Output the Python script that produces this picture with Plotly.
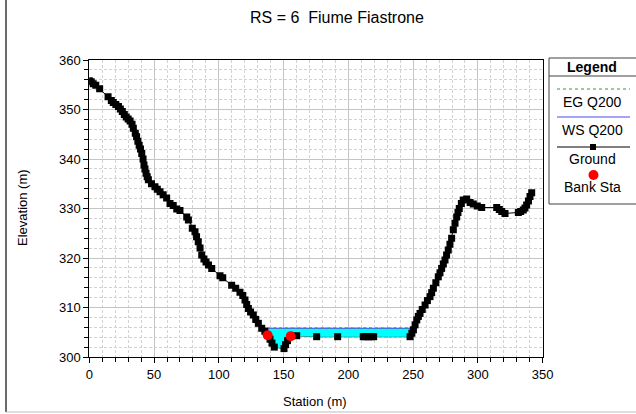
import numpy as np
import plotly.graph_objects as go

# ---------------- data ----------------
ground_sta = [0, 1.5, 3, 5, 8, 14.5, 17, 18.5, 20.5, 22.5, 24, 25.5, 27, 28.5, 30, 31.5, 33, 34,
              35.5, 36.5, 37.5, 38.5, 39.5, 40.5, 41.5, 42.2, 43, 43.8, 44.7, 45.6, 48, 50.7, 52.5,
              54.6, 57, 59.7, 62.3, 64.8, 67.5, 70, 75.2, 76.5, 79.5, 81.6, 82.8, 84.1, 85.5, 86.8,
              88.5, 90.1, 92, 94.5, 100.9, 103, 109.9, 113, 116.3, 118.5, 120.2, 121.5, 122.8, 124.5,
              126.6, 128.5, 130.5, 133.1, 135.5, 137.7, 139.5, 141, 142.8, 150.3, 151.5, 153, 155.5,
              160.1, 175.5, 191.7, 211.5, 213.5, 215.5, 217.5, 219.5, 247.6, 249, 250.2, 251.5, 252.8,
              254, 255.3, 257, 259.2, 261, 263, 264.3, 265.6, 267.5, 269.4, 270.7, 272, 273.3, 274.6,
              275.8, 277.1, 278.4, 279.7, 281, 282.3, 283.6, 284.6, 285.6, 287.2, 288.7, 291.3, 294,
              296.4, 299.5, 302.9, 314.5, 316.5, 318.4, 320.9, 331.2, 333, 335, 336.3, 337.6, 339,
              340.2, 341.5]
ground_elev = [355.8, 355.6, 355.2, 354.9, 354.2, 352.6, 351.8, 351.4, 351.0, 350.6, 350.1, 349.6,
               349.0, 348.5, 348.1, 347.7, 347.0, 346.2, 345.2, 344.5, 343.6, 342.8, 342.0, 341.1,
               340.0, 338.8, 338.0, 337.1, 336.4, 335.8, 335.0, 334.4, 333.9, 333.4, 332.8, 332.1,
               331.0, 330.6, 329.9, 329.6, 328.3, 327.7, 326.0, 325.3, 324.3, 323.3, 322.0, 320.6,
               319.8, 319.2, 318.6, 317.9, 316.4, 316.0, 314.5, 313.9, 313.1, 312.4, 311.5, 310.6,
               309.8, 309.1, 308.5, 307.6, 306.8, 305.8, 305.2, 304.4, 303.6, 302.8, 302.0, 301.7,
               302.5, 303.3, 304.2, 304.3, 304.1, 304.1, 304.1, 304.1, 304.1, 304.1, 304.1, 304.1,
               304.8, 305.5, 306.5, 307.5, 308.2, 308.8, 309.6, 310.5, 311.4, 312.2, 313.0, 313.9,
               315.0, 316.2, 317.0, 317.9, 318.8, 319.6, 320.6, 321.6, 322.8, 324.0, 325.7, 327.0,
               328.3, 329.2, 330.0, 331.0, 331.7, 331.9, 331.2, 330.9, 330.5, 330.2, 330.2, 329.8,
               329.4, 329.0, 329.2, 329.4, 329.7, 330.1, 330.7, 331.5, 332.4, 333.2]
bank_sta = [137.7, 155.5]
bank_elev = [304.4, 304.2]
ws_elev = 305.8
eg_elev = 305.86
legend_labels = ["EG Q200", "WS Q200", "Ground", "Bank Sta"]
title_text = "RS = 6  Fiume Fiastrone"
x_title = "Station (m)"
y_title = "Elevation (m)"

# ---------------- geometry helpers ----------------
W, H = 636, 414
def px(x):
    return x / W
def py(y):
    return 1 - y / H

gs = np.array(ground_sta, dtype=float)
ge = np.array(ground_elev, dtype=float)

def crossing(i0, i1):
    x0, x1, y0, y1 = gs[i0], gs[i1], ge[i0], ge[i1]
    return x0 + (ws_elev - y0) * (x1 - x0) / (y1 - y0)

idx_below = np.where(ge < ws_elev)[0]
li, ri = idx_below[0], idx_below[-1]
left_x = crossing(li - 1, li)
right_x = crossing(ri, ri + 1)

mask = (gs > left_x) & (gs < right_x)
poly_x = [left_x, right_x] + list(gs[mask][::-1]) + [left_x]
poly_y = [ws_elev, ws_elev] + list(ge[mask][::-1]) + [ws_elev]

fig = go.Figure()

fig.add_trace(go.Scatter(x=ground_sta, y=ground_elev, mode="lines",
                         line=dict(color="black", width=1), showlegend=False, hoverinfo="skip"))
fig.add_trace(go.Scatter(x=poly_x, y=poly_y, mode="lines", fill="toself",
                         fillcolor="#00FFFF", line=dict(color="#00FFFF", width=0.5),
                         showlegend=False, hoverinfo="skip"))
fig.add_trace(go.Scatter(x=[left_x, right_x], y=[ws_elev, ws_elev], mode="lines",
                         line=dict(color="#4a4aff", width=1), showlegend=False))
fig.add_trace(go.Scatter(x=[left_x - 0.5, right_x + 0.3], y=[eg_elev, eg_elev], mode="lines",
                         line=dict(color="#2ca02c", width=1, dash="dot"), showlegend=False))
fig.add_trace(go.Scatter(x=ground_sta, y=ground_elev, mode="markers",
                         marker=dict(symbol="square", size=7, color="black",
                                     line=dict(width=0)),
                         showlegend=False))
fig.add_trace(go.Scatter(x=bank_sta, y=bank_elev, mode="markers",
                         marker=dict(symbol="circle", size=10, color="#ff0000",
                                     line=dict(width=0)),
                         showlegend=False))

axis_font = dict(family="Liberation Sans, Arial, sans-serif", size=13, color="black")

fig.update_xaxes(domain=[px(89.3), px(542.7)], range=[0, 350], dtick=50, tick0=0,
                 showline=True, linecolor="black", linewidth=1, mirror=True,
                 ticks="outside", ticklen=5, tickcolor="black",
                 showgrid=True, gridcolor="#c4c4c4", gridwidth=1,
                 minor=dict(dtick=10, ticks="outside", ticklen=4, tickcolor="black",
                            showgrid=True, gridcolor="#d2d2d2", griddash="3px,2px"),
                 zeroline=False, tickfont=axis_font)
fig.update_yaxes(domain=[py(357), py(60)], range=[300, 360], dtick=10, tick0=300,
                 showline=True, linecolor="black", linewidth=1, mirror=True,
                 ticks="outside", ticklen=5, tickcolor="black",
                 showgrid=True, gridcolor="#c4c4c4", gridwidth=1,
                 minor=dict(dtick=2, ticks="outside", ticklen=4, tickcolor="black",
                            showgrid=True, gridcolor="#d2d2d2", griddash="3px,2px"),
                 zeroline=False, tickfont=axis_font)

shapes = []
annotations = []
shapes.append(dict(type="line", xref="paper", yref="paper", x0=px(6), x1=px(6), y0=py(0), y1=py(412),
                   line=dict(color="#6a6a6a", width=2)))
shapes.append(dict(type="line", xref="paper", yref="paper", x0=px(6), x1=px(640), y0=py(412), y1=py(412),
                   line=dict(color="#bdbdbd", width=1)))
shapes.append(dict(type="rect", xref="paper", yref="paper", x0=px(549), x1=px(650), y0=py(204), y1=py(58),
                   line=dict(color="#404040", width=1), fillcolor="white"))
shapes.append(dict(type="line", xref="paper", yref="paper", x0=px(549), x1=px(650), y0=py(76), y1=py(76),
                   line=dict(color="#404040", width=1)))
shapes.append(dict(type="line", xref="paper", yref="paper", x0=px(557), x1=px(630), y0=py(89), y1=py(89),
                   line=dict(color="#2ca02c", width=1.2, dash="dot")))
shapes.append(dict(type="line", xref="paper", yref="paper", x0=px(557), x1=px(630), y0=py(117), y1=py(117),
                   line=dict(color="#4a4aff", width=1.2)))
shapes.append(dict(type="line", xref="paper", yref="paper", x0=px(557), x1=px(630), y0=py(147), y1=py(147),
                   line=dict(color="black", width=1)))
shapes.append(dict(type="rect", xref="paper", yref="paper", x0=px(590), x1=px(596), y0=py(150), y1=py(144),
                   line=dict(width=0), fillcolor="black"))
shapes.append(dict(type="circle", xref="paper", yref="paper", x0=px(588.5), x1=px(598.5), y0=py(180), y1=py(170),
                   line=dict(width=0), fillcolor="#ff0000"))

leg_font = dict(family="Liberation Sans, Arial, sans-serif", size=14, color="black")
annotations.append(dict(text="<b>Legend</b>", x=px(592), y=py(67), xref="paper", yref="paper",
                        showarrow=False, xanchor="center", yanchor="middle", font=leg_font))
for lab, yy in zip(legend_labels, [102, 130, 159, 187]):
    annotations.append(dict(text=lab, x=px(592), y=py(yy), xref="paper", yref="paper",
                            showarrow=False, xanchor="center", yanchor="middle", font=leg_font))

annotations.append(dict(text=title_text, x=px(337), y=py(18), xref="paper", yref="paper",
                        showarrow=False, xanchor="center", yanchor="middle",
                        font=dict(family="Liberation Sans, Arial, sans-serif", size=16, color="black")))
annotations.append(dict(text=x_title, x=px(315), y=py(401), xref="paper", yref="paper",
                        showarrow=False, xanchor="center", yanchor="middle", font=axis_font))
annotations.append(dict(text=y_title, x=px(22), y=py(208), xref="paper", yref="paper",
                        showarrow=False, xanchor="center", yanchor="middle", textangle=-90, font=axis_font))

fig.update_layout(width=W, height=H, margin=dict(l=0, r=0, t=0, b=0, autoexpand=False),
                  paper_bgcolor="white", plot_bgcolor="white",
                  shapes=shapes, annotations=annotations, showlegend=False)

fig.write_html("out.html")
